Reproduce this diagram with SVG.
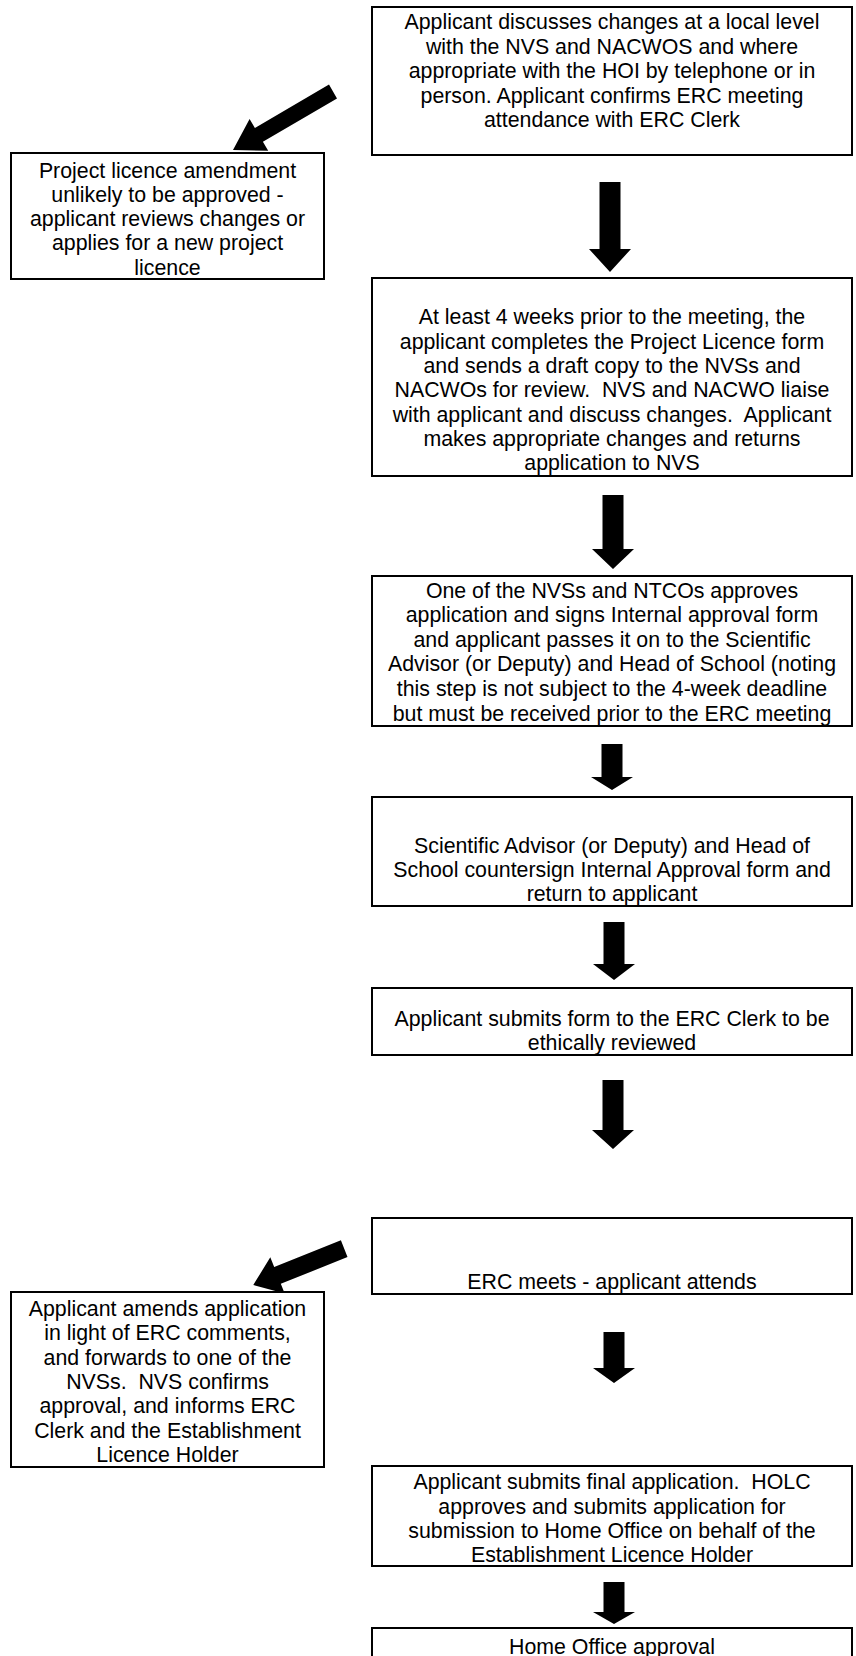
<svg xmlns="http://www.w3.org/2000/svg" width="856" height="1656" viewBox="0 0 856 1656">
<style>
.box{fill:#fff;stroke:#000;stroke-width:2}
.t{font-family:"Liberation Sans",Arial,sans-serif;font-size:21.33px;fill:#000;text-anchor:middle}
.arr{fill:#000;stroke:none}
</style>
<rect x="0" y="0" width="856" height="1656" fill="#fff"/>
<g id="connectors">
<polygon class="arr" points="599.5,182 620.5,182 620.5,249 631,249 610,272 589,249 599.5,249"/>
<polygon class="arr" points="602.5,495 623.5,495 623.5,549 634,549 613,569 592,549 602.5,549"/>
<polygon class="arr" points="601.5,744 622.5,744 622.5,777 633,777 612,790 591,777 601.5,777"/>
<polygon class="arr" points="603.5,922 624.5,922 624.5,964 635,964 614,980 593,964 603.5,964"/>
<polygon class="arr" points="602.5,1080 623.5,1080 623.5,1130 634,1130 613,1149 592,1130 602.5,1130"/>
<polygon class="arr" points="603.5,1332 624.5,1332 624.5,1368 635,1368 614,1383 593,1368 603.5,1368"/>
<polygon class="arr" points="603.5,1582 624.5,1582 624.5,1612 635,1612 614,1624 593,1612 603.5,1612"/>
<polygon class="arr" points="329,84.6 337,98.4 262.9,141.8 268.2,150.8 233,150 249.6,118.9 254.9,127.9"/>
<polygon class="arr" points="340.9,1240.3 347.5,1257.1 280.8,1283.8 284.7,1293.5 253.3,1285 270.3,1257.3 274.2,1267"/>
</g>
<g id="n1">
<rect class="box" x="372" y="7" width="480" height="148"/>
<text class="t" x="612" y="29">Applicant discusses changes at a local level</text>
<text class="t" x="612" y="53.5">with the NVS and NACWOS and where</text>
<text class="t" x="612" y="78">appropriate with the HOI by telephone or in</text>
<text class="t" x="612" y="102.5">person. Applicant confirms ERC meeting</text>
<text class="t" x="612" y="127">attendance with ERC Clerk</text>
</g>
<g id="n_reject">
<rect class="box" x="11" y="153" width="313" height="126"/>
<text class="t" x="167.5" y="177.5">Project licence amendment</text>
<text class="t" x="167.5" y="201.8">unlikely to be approved -</text>
<text class="t" x="167.5" y="226">applicant reviews changes or</text>
<text class="t" x="167.5" y="250.3">applies for a new project</text>
<text class="t" x="167.5" y="274.5">licence</text>
</g>
<g id="n2">
<rect class="box" x="372" y="278" width="480" height="198"/>
<text class="t" x="612" y="324.3">At least 4 weeks prior to the meeting, the</text>
<text class="t" x="612" y="348.6">applicant completes the Project Licence form</text>
<text class="t" x="612" y="372.9">and sends a draft copy to the NVSs and</text>
<text class="t" x="612" y="397.2" xml:space="preserve">NACWOs for review.  NVS and NACWO liaise</text>
<text class="t" x="612" y="421.5" xml:space="preserve">with applicant and discuss changes.  Applicant</text>
<text class="t" x="612" y="445.8">makes appropriate changes and returns</text>
<text class="t" x="612" y="470.1">application to NVS</text>
</g>
<g id="n3">
<rect class="box" x="372" y="576" width="480" height="150"/>
<text class="t" x="612" y="597.6">One of the NVSs and NTCOs approves</text>
<text class="t" x="612" y="622.2">application and signs Internal approval form</text>
<text class="t" x="612" y="646.8">and applicant passes it on to the Scientific</text>
<text class="t" x="612" y="671.4">Advisor (or Deputy) and Head of School (noting</text>
<text class="t" x="612" y="696">this step is not subject to the 4-week deadline</text>
<text class="t" x="612" y="720.6">but must be received prior to the ERC meeting</text>
</g>
<g id="n4">
<rect class="box" x="372" y="797" width="480" height="109"/>
<text class="t" x="612" y="852.6">Scientific Advisor (or Deputy) and Head of</text>
<text class="t" x="612" y="877">School countersign Internal Approval form and</text>
<text class="t" x="612" y="901.4">return to applicant</text>
</g>
<g id="n5">
<rect class="box" x="372" y="988" width="480" height="67"/>
<text class="t" x="612" y="1026">Applicant submits form to the ERC Clerk to be</text>
<text class="t" x="612" y="1050.4">ethically reviewed</text>
</g>
<g id="n6">
<rect class="box" x="372" y="1218" width="480" height="76"/>
<text class="t" x="612" y="1289.3">ERC meets - applicant attends</text>
</g>
<g id="n_amend">
<rect class="box" x="11" y="1292" width="313" height="175"/>
<text class="t" x="167.5" y="1316">Applicant amends application</text>
<text class="t" x="167.5" y="1340.3">in light of ERC comments,</text>
<text class="t" x="167.5" y="1364.6">and forwards to one of the</text>
<text class="t" x="167.5" y="1388.9" xml:space="preserve">NVSs.  NVS confirms</text>
<text class="t" x="167.5" y="1413.2">approval, and informs ERC</text>
<text class="t" x="167.5" y="1437.5">Clerk and the Establishment</text>
<text class="t" x="167.5" y="1461.8">Licence Holder</text>
</g>
<g id="n7">
<rect class="box" x="372" y="1466" width="480" height="100"/>
<text class="t" x="612" y="1489.2" xml:space="preserve">Applicant submits final application.  HOLC</text>
<text class="t" x="612" y="1513.6">approves and submits application for</text>
<text class="t" x="612" y="1538">submission to Home Office on behalf of the</text>
<text class="t" x="612" y="1562.4">Establishment Licence Holder</text>
</g>
<g id="n8">
<rect class="box" x="372" y="1628" width="480" height="60"/>
<text class="t" x="612" y="1654">Home Office approval</text>
</g>
</svg>
